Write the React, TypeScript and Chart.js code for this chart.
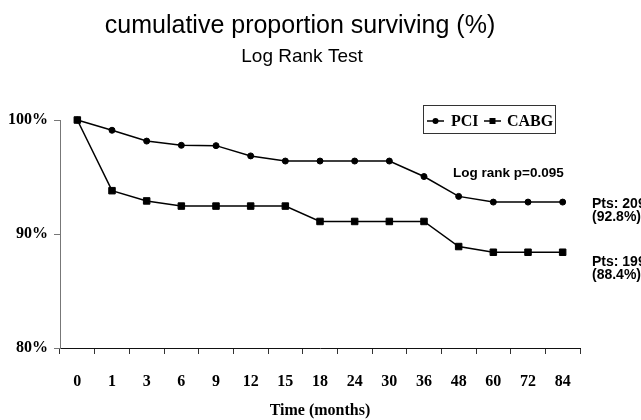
import React, { useEffect, useRef } from "react";
import { Chart, registerables } from "chart.js";

Chart.register(...registerables);

const months = ["0", "1", "3", "6", "9", "12", "15", "18", "24", "30", "36", "48", "60", "72", "84"];
const pciSurvival = [100, 99.1, 98.15, 97.78, 97.75, 96.85, 96.4, 96.4, 96.4, 96.4, 95.04, 93.3, 92.8, 92.8, 92.8];
const cabgSurvival = [100, 93.8, 92.9, 92.45, 92.45, 92.45, 92.45, 91.1, 91.1, 91.1, 91.1, 88.9, 88.4, 88.4, 88.4];
const yMin = 80;
const yMax = 100;
const yStep = 10;
const seriesNames = ["PCI", "CABG"];
const chartTitle = "cumulative proportion surviving (%)";
const chartSubtitle = "Log Rank Test";
const xAxisTitle = "Time (months)";
const pValueNote = "Log rank p=0.095";
const pciEndNote = ["Pts: 209", "(92.8%)"];
const cabgEndNote = ["Pts: 199", "(88.4%)"];

const SANS = '"Liberation Sans", Arial, Helvetica, sans-serif';
const SERIF = '"Liberation Serif", "Times New Roman", Times, serif';

export default function App() {
  const ref = useRef<HTMLCanvasElement>(null);

  useEffect(() => {
    document.body.style.margin = "0";
    const canvas = ref.current;
    if (!canvas) return;

    const annotations = {
      id: "annotations",
      afterDraw(chart: any) {
        const c = chart.ctx as CanvasRenderingContext2D;
        c.save();
        c.fillStyle = "#000";
        c.textBaseline = "middle";
        c.textAlign = "center";
        c.font = `25px ${SANS}`;
        c.fillText(chartTitle, 300, 26);
        c.font = `19px ${SANS}`;
        c.fillText(chartSubtitle, 302, 57);

        c.textAlign = "left";
        c.font = `bold 13.5px ${SANS}`;
        c.fillText(pValueNote, 453, 173);
        c.font = `bold 14px ${SANS}`;
        pciEndNote.forEach((t, i) => c.fillText(t, 592, 204 + i * 13.5));
        cabgEndNote.forEach((t, i) => c.fillText(t, 592, 262 + i * 13.5));

        // legend box
        c.strokeStyle = "#333";
        c.lineWidth = 1;
        c.strokeRect(423.5, 105.5, 132, 28);
        const entries = [
          { x: 427, textX: 451 },
          { x: 484, textX: 507 },
        ];
        const ly = 121;
        chart.data.datasets.forEach((ds: any, i: number) => {
          const e = entries[i];
          c.strokeStyle = "#000";
          c.lineWidth = 1.5;
          c.beginPath();
          c.moveTo(e.x, ly);
          c.lineTo(e.x + 17, ly);
          c.stroke();
          c.fillStyle = "#000";
          if (ds.pointStyle === "rect") {
            c.fillRect(e.x + 8.5 - 3, ly - 3, 6, 6);
          } else {
            c.beginPath();
            c.arc(e.x + 8.5, ly, 3, 0, Math.PI * 2);
            c.fill();
          }
          c.font = `bold 16px ${SERIF}`;
          c.fillText(ds.label, e.textX, ly + 1);
        });
        c.restore();
      },
    };

    const chart = new Chart(canvas, {
      type: "line",
      data: {
        labels: months,
        datasets: [
          {
            label: seriesNames[0],
            data: pciSurvival,
            borderColor: "#000",
            backgroundColor: "#000",
            borderWidth: 1.5,
            pointStyle: "circle",
            pointRadius: 3,
            pointBorderWidth: 1,
            pointBorderColor: "#000",
            pointBackgroundColor: "#000",
            tension: 0,
            clip: false as any,
          },
          {
            label: seriesNames[1],
            data: cabgSurvival,
            borderColor: "#000",
            backgroundColor: "#000",
            borderWidth: 1.5,
            pointStyle: "rect",
            pointRadius: 4.6,
            pointBorderWidth: 1,
            pointBorderColor: "#000",
            pointBackgroundColor: "#000",
            tension: 0,
            clip: false as any,
          },
        ],
      },
      options: {
        responsive: false,
        animation: false,
        layout: { padding: { top: 120, right: 61, left: 0, bottom: 0 } },
        plugins: {
          legend: { display: false },
          title: { display: false },
          tooltip: { enabled: false },
        },
        scales: {
          x: {
            type: "category",
            offset: true,
            grid: {
              display: true,
              drawOnChartArea: false,
              offset: true,
              tickLength: 6,
              color: "#333",
            },
            border: { color: "#111", width: 1 },
            ticks: {
              color: "#000",
              font: { family: SERIF, weight: "bold", size: 16 },
              padding: 18,
              maxRotation: 0,
              autoSkip: false,
            },
            title: {
              display: true,
              text: xAxisTitle,
              color: "#000",
              font: { family: SERIF, weight: "bold", size: 16 },
              padding: { top: 0, bottom: 0 },
            },
            afterFit(s: any) {
              s.height = 72;
            },
          },
          y: {
            min: yMin,
            max: yMax,
            ticks: {
              stepSize: yStep,
              color: "#000",
              font: { family: SERIF, weight: "bold", size: 16 },
              padding: 6,
              callback: (v: any) => `${v}%`,
            },
            grid: {
              drawOnChartArea: false,
              tickLength: 6,
              color: "#777",
            },
            border: { color: "#777", width: 1 },
            afterFit(s: any) {
              s.width = 60;
            },
          },
        },
      },
      plugins: [annotations],
    });

    return () => chart.destroy();
  }, []);

  return (
    <div style={{ width: 641, height: 420 }}>
      <canvas ref={ref} width={641} height={420} style={{ display: "block" }} />
    </div>
  );
}
